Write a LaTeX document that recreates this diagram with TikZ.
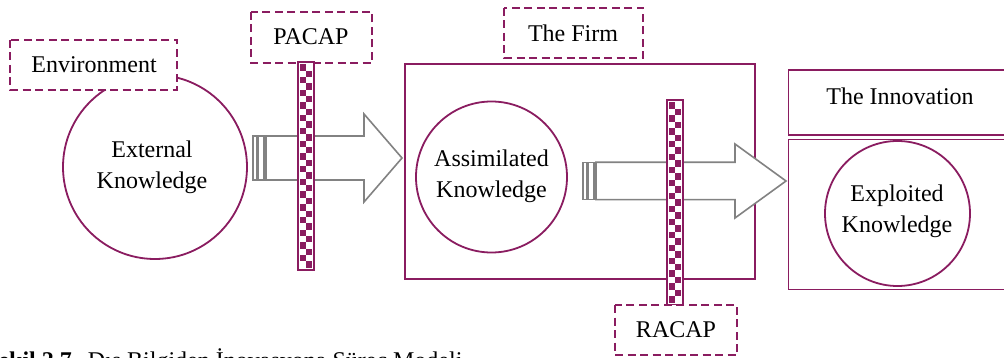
\documentclass[tikz,border=0pt]{standalone}
\usepackage{fontspec}
\setmainfont{Liberation Serif}
\begin{document}
\definecolor{accent}{RGB}{138,28,96}
\definecolor{arrowgray}{RGB}{130,130,130}
% vertical checkered barrier: x0,y0,x1,y1,rows
\newcommand\checkbar[5]{%
  \begin{scope}
    \fill[white] (#1,#2) rectangle (#3,#4);
    \clip ({#1+2.2},{#2+2.2}) rectangle ({#3-2.2},{#4-2.2});
    \pgfmathsetmacro\cw{(#3-#1-4.4)/2}
    \pgfmathsetmacro\ch{(#4-#2-4.4)/#5}
    \foreach \k in {0,...,#5}{
      \pgfmathsetmacro\xa{#1+2.2+mod(\k,2)*\cw}
      \fill[accent] (\xa,{#2+2.2+\k*\ch}) rectangle ++(\cw,\ch);
    }
  \end{scope}
  \draw[accent,line width=1.6] (#1,#2) rectangle (#3,#4);
}
% striped block arrow: tail x, centre y, head start x, tip x, half body, half head
\newcommand\stripearrow[6]{%
  \draw[arrowgray,line width=1.6,fill=white,line join=miter]
    ({#1+13},{#2-#5}) -- ({#3},{#2-#5}) -- ({#3},{#2-#6}) -- ({#4},{#2})
    -- ({#3},{#2+#6}) -- ({#3},{#2+#5}) -- ({#1+13},{#2+#5}) -- cycle;
  \draw[arrowgray,line width=1.1,fill=white] ({#1},{#2-#5}) rectangle ({#1+3.2},{#2+#5});
  \draw[arrowgray,line width=1.1,fill=white] ({#1+5},{#2-#5}) rectangle ({#1+11},{#2+#5});
}
\begin{tikzpicture}[x=1pt,y=-1pt,
  every node/.style={font=\fontsize{24}{31}\selectfont, text=black},
  dashbox/.style={draw=accent, line width=1.8, dash pattern=on 8pt off 4.5pt, fill=white},
  solidbox/.style={draw=accent, line width=1.8},
  knowcircle/.style={circle, draw=accent, line width=1.8, fill=white, inner sep=0pt, align=center},
  label/.style={inner sep=0pt, align=center}]
  \useasboundingbox (0,0) rectangle (1004,358);
  \clip (0,0) rectangle (1004,358);
  \fill[white] (0,0) rectangle (1004,358);

  % environment and external knowledge
  \node[knowcircle, minimum size=184pt] (ext) at (155,167) {};
  \node[label] (extt) at (152,167) {External\\Knowledge};
  \draw[dashbox] (10,40) rectangle (177,90);
  \node[label] (env) at (94,65) {Environment};

  % potential absorptive capacity
  \draw[dashbox] (251,12) rectangle (372,63);
  \node[label] (pacap) at (311,37) {PACAP};
  \stripearrow{253}{158}{364}{402}{22}{44}
  \checkbar{298}{62}{314}{270}{32}

  % the firm
  \draw[solidbox] (405,64) rectangle (755,279);
  \draw[dashbox] (504,8) rectangle (643,58);
  \node[label] (firm) at (573,33) {The Firm};
  \node[knowcircle, minimum size=151pt] (assim) at (491.5,177) {};
  \node[label] (assimt) at (491.5,176) {Assimilated\\Knowledge};

  % realized absorptive capacity
  \stripearrow{583}{181}{735}{786}{18.7}{37}
  \checkbar{667}{100}{683}{305}{31}
  \draw[dashbox] (615,305) rectangle (737,355);
  \node[label] (racap) at (676,330) {RACAP};

  % the innovation
  \draw[solidbox] (788.5,70) rectangle (1012,135);
  \node[label] (innov) at (900,96) {The Innovation};
  \draw[solidbox] (788.5,139.5) rectangle (1012,289.5);
  \node[knowcircle, minimum size=145pt] (expl) at (897.5,213.5) {};
  \node[label] (explt) at (897,211) {Exploited\\Knowledge};

  % caption, running off the lower edge
  \node[anchor=base west, inner sep=0pt] (cap) at (-15,368)
    {\textbf{Şekil 2.7}\hspace{16pt}Dış Bilgiden İnovasyona Süreç Modeli};
\end{tikzpicture}
\end{document}
